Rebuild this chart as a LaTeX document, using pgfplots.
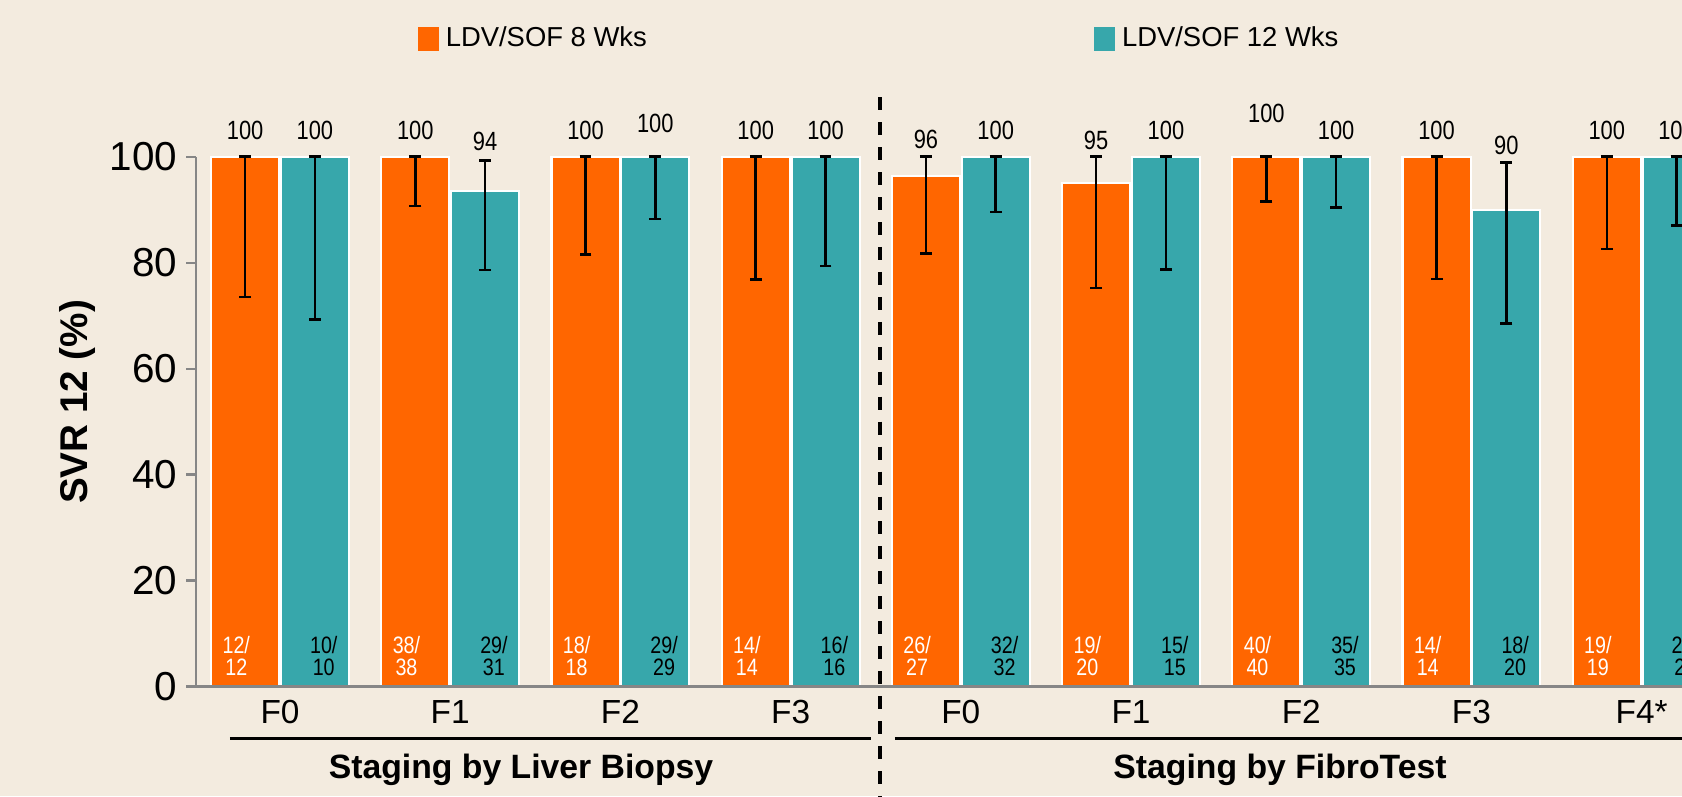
\documentclass[border=0pt]{standalone}
\usepackage{pgfplots}
\pgfplotsset{compat=1.18}
\usepackage{fontspec}
\setmainfont{Liberation Sans}
\newfontfamily\narrowfont{Liberation Sans}[FakeStretch=0.83]
\definecolor{bg}{RGB}{243,235,223}
\definecolor{org}{RGB}{255,102,0}
\definecolor{tealc}{RGB}{55,167,171}
\definecolor{axgray}{RGB}{134,134,134}

\newcommand{\nlab}[4]{%
  \node[anchor=base, inner sep=0pt, text=#4, font=\narrowfont\fontsize{6.75}{7}\selectfont] at (axis cs:#1,6.3) {#2};
  \node[anchor=base, inner sep=0pt, text=#4, font=\narrowfont\fontsize{6.75}{7}\selectfont] at (axis cs:#1,2.0) {#3};
}

\begin{document}
\begin{tikzpicture}
\useasboundingbox (0,0) rectangle (16.82,7.96);
\fill[bg] (0,0) rectangle (16.82,7.96);
\clip (0,0) rectangle (16.82,7.96);
\begin{axis}[
  at={(1.96cm,1.095cm)}, anchor=south west,
  scale only axis, width=14.86cm, height=5.299cm,
  xmin=-0.4935, xmax=8.237, ymin=0, ymax=100,
  clip=false, axis on top,
  axis x line=bottom, axis y line=left,
  axis line style={-, draw=axgray, line width=0.6pt},
  ytick={0,20,40,60,80,100},
  xtick={0,1,2,3,4,5,6,7,8},
  xticklabels={F0,F1,F2,F3,F0,F1,F2,F3,F4*},
  tick align=outside,
  major tick length=2.8pt,
  y tick style={draw=axgray, line width=0.6pt},
  x tick style={draw=none},
  /pgf/number format/assume math mode=true,
  yticklabel style={font=\fontsize{11.5}{13.5}\selectfont, anchor=east, inner sep=0pt, xshift=-2.3pt},
  xticklabel style={font=\fontsize{9.5}{11}\selectfont, anchor=north, inner sep=0pt, yshift=-1pt},
  ylabel={SVR 12 (\%)},
  ylabel style={font=\fontsize{11}{13}\selectfont\bfseries, at={(axis description cs:-0.080,0.537)}, anchor=center},
  legend columns=2,
  legend style={at={(axis description cs:0.1487,1.222)}, anchor=west, draw=none, fill=none,
    inner sep=0pt, font=\fontsize{7.8}{9}\selectfont,
    /tikz/every even column/.append style={column sep=4.4cm}},
  error bars/y dir=both, error bars/y explicit,
  error bars/error bar style={black, line width=0.7pt},
  error bars/error mark options={rotate=90, black, mark size=1.7pt, line width=0.7pt},
]
\addplot[ybar, bar width=0.4, bar shift=0, fill=org, draw=white, line width=0.6pt,
  legend image code/.code={\fill[org] (0cm,-0.11cm) rectangle (0.19cm,0.11cm);}]
  coordinates {
  (-0.205,100) += (0,0) -= (0,26.5)
  (0.795,100) += (0,0) -= (0,9.3)
  (1.795,100) += (0,0) -= (0,18.5)
  (2.795,100) += (0,0) -= (0,23.2)
  (3.795,96.3) += (0,3.7) -= (0,14.6)
  (4.795,95) += (0,5) -= (0,19.8)
  (5.795,100) += (0,0) -= (0,8.5)
  (6.795,100) += (0,0) -= (0,23.1)
  (7.795,100) += (0,0) -= (0,17.4)
  };
\addlegendentry{LDV/SOF 8 Wks}
\addplot[ybar, bar width=0.4, bar shift=0, fill=tealc, draw=white, line width=0.6pt,
  legend image code/.code={\fill[tealc] (0cm,-0.11cm) rectangle (0.19cm,0.11cm);}]
  coordinates {
  (0.205,100) += (0,0) -= (0,30.7)
  (1.205,93.5) += (0,5.8) -= (0,14.9)
  (2.205,100) += (0,0) -= (0,11.8)
  (3.205,100) += (0,0) -= (0,20.6)
  (4.205,100) += (0,0) -= (0,10.5)
  (5.205,100) += (0,0) -= (0,21.3)
  (6.205,100) += (0,0) -= (0,9.6)
  (7.205,90) += (0,8.9) -= (0,21.5)
  (8.205,100) += (0,0) -= (0,13)
  };
\addlegendentry{LDV/SOF 12 Wks}
% value labels
\addplot[forget plot, only marks, mark=none, draw=none, nodes near coords, point meta=explicit symbolic,
  nodes near coords align=center,
  every node near coord/.style={anchor=south, inner sep=0pt, text=black, font=\narrowfont\fontsize{7.5}{9}\selectfont}]
  coordinates {
  (-0.205,103) [100] (0.205,103) [100]
  (0.795,103) [100] (1.205,101) [94]
  (1.795,103) [100] (2.205,104.3) [100]
  (2.795,103) [100] (3.205,103) [100]
  (3.795,101.3) [96] (4.205,103) [100]
  (4.795,101.1) [95] (5.205,103) [100]
  (5.795,106.3) [100] (6.205,103) [100]
  (6.795,103) [100] (7.205,100.2) [90]
  (7.795,103) [100] (8.205,103) [100]
  };
% n/N labels
\nlab{-0.257}{12/}{12}{white}\nlab{0.257}{10/}{10}{black}
\nlab{0.743}{38/}{38}{white}\nlab{1.257}{29/}{31}{black}
\nlab{1.743}{18/}{18}{white}\nlab{2.257}{29/}{29}{black}
\nlab{2.743}{14/}{14}{white}\nlab{3.257}{16/}{16}{black}
\nlab{3.743}{26/}{27}{white}\nlab{4.257}{32/}{32}{black}
\nlab{4.743}{19/}{20}{white}\nlab{5.257}{15/}{15}{black}
\nlab{5.743}{40/}{40}{white}\nlab{6.257}{35/}{35}{black}
\nlab{6.743}{14/}{14}{white}\nlab{7.257}{18/}{20}{black}
\nlab{7.743}{19/}{19}{white}\nlab{8.257}{20/}{20}{black}
% group brackets and separators
\draw[black, line width=1pt] (axis cs:-0.294,-9.8) -- (axis cs:3.472,-9.8);
\draw[black, line width=1pt] (axis cs:3.613,-9.8) -- (axis cs:8.4,-9.8);
\draw[black, line width=1pt, dash pattern=on 3.7pt off 3.4pt] (axis cs:3.525,111.2) -- (axis cs:3.525,-21);
\node[font=\fontsize{9.6}{11}\selectfont\bfseries] at (axis cs:1.416,-15.76) {Staging by Liver Biopsy};
\node[font=\fontsize{9.6}{11}\selectfont\bfseries] at (axis cs:5.875,-15.76) {Staging by FibroTest};
\end{axis}
\end{tikzpicture}
\end{document}
